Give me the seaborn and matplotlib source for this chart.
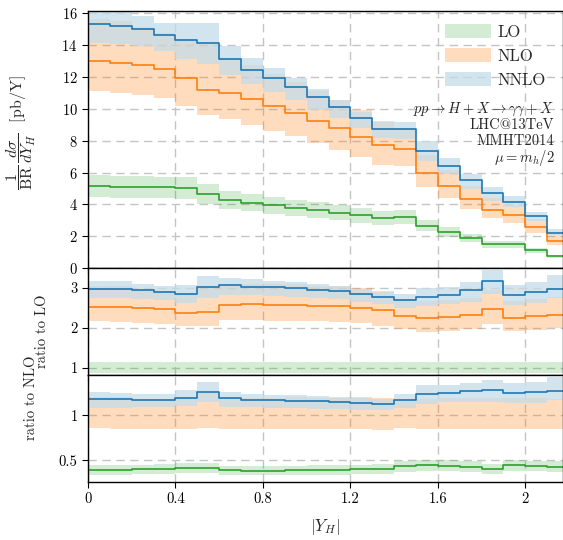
import numpy as np
import pandas as pd
import matplotlib
matplotlib.use("Agg")
import matplotlib.pyplot as plt
import seaborn as sns
from matplotlib.patches import Patch

# --- data: 22 bins of width 0.1 in |Y_H| ---
bin_edges = np.round(np.arange(0, 2.21, 0.1), 2)

lo_c = [5.13, 5.12, 5.10, 5.06, 5.01, 4.66, 4.28, 4.11, 3.95, 3.79, 3.63,
        3.46, 3.30, 3.16, 3.23, 2.66, 2.28, 1.87, 1.48, 1.48, 1.12, 0.73]
lo_dn = [4.44, 4.43, 4.41, 4.38, 4.33, 4.03, 3.70, 3.56, 3.42, 3.28, 3.14,
         2.99, 2.85, 2.73, 2.79, 2.30, 1.97, 1.62, 1.28, 1.28, 0.97, 0.63]
lo_up = [5.82, 5.81, 5.79, 5.74, 5.69, 5.29, 4.86, 4.66, 4.48, 4.30, 4.12,
         3.93, 3.75, 3.59, 3.67, 3.02, 2.59, 2.12, 1.68, 1.68, 1.27, 0.83]

nlo_c = [12.98, 12.91, 12.77, 12.49, 11.95, 11.21, 11.02, 10.63, 10.19, 9.74, 9.26,
         8.80, 8.25, 7.71, 7.45, 5.97, 5.16, 4.34, 3.67, 3.33, 2.57, 1.70]
nlo_dn = [11.11, 11.00, 10.85, 10.66, 10.20, 9.59, 9.37, 9.01, 8.61, 8.27, 7.85,
          7.43, 6.97, 6.49, 6.38, 5.07, 4.39, 3.69, 3.12, 2.83, 2.18, 1.45]
nlo_up = [15.62, 15.55, 15.15, 14.75, 14.36, 14.05, 13.20, 12.75, 12.20, 11.70, 11.10,
          10.58, 9.91, 9.22, 8.78, 7.08, 6.14, 5.16, 4.37, 3.96, 3.06, 2.02]

nnlo_c = [15.31, 15.22, 14.99, 14.66, 14.32, 14.13, 13.15, 12.47, 11.93, 11.36, 10.75,
          10.12, 9.43, 8.73, 8.73, 7.38, 6.44, 5.51, 4.70, 4.17, 3.24, 2.17]
nnlo_dn = [14.12, 14.05, 13.92, 13.62, 13.15, 12.85, 12.10, 11.58, 11.07, 10.55, 9.96,
           9.43, 8.77, 8.18, 8.10, 6.75, 5.92, 4.97, 4.22, 3.81, 2.93, 2.00]
nnlo_up = [16.30, 16.20, 15.83, 15.41, 15.38, 15.37, 13.94, 13.21, 12.54, 11.95, 11.26,
           10.55, 9.82, 9.15, 9.20, 7.96, 6.92, 5.90, 5.12, 4.55, 3.52, 2.42]

orders = ["LO", "NLO", "NNLO"]
x_ticks = [0, 0.4, 0.8, 1.2, 1.6, 2]
x_ticklabels = ["0", "0.4", "0.8", "1.2", "1.6", "2"]

colors = {"LO": "#2ca02c", "NLO": "#ff7f0e", "NNLO": "#1f77b4"}
# band fills: (colour, alpha)
band_style = {"LO": ("#2ca02c", 0.2), "NLO": ("#ff7f0e", 0.27),
              "NNLO": ("#c4dbe9", 0.75)}

series = {
    "LO": (np.array(lo_c), np.array(lo_dn), np.array(lo_up)),
    "NLO": (np.array(nlo_c), np.array(nlo_dn), np.array(nlo_up)),
    "NNLO": (np.array(nnlo_c), np.array(nnlo_dn), np.array(nnlo_up)),
}


def step(v):
    # repeat the last bin so the post-step reaches the right edge
    return np.append(v, v[-1])


def draw_panel(ax, ref, show_lines):
    for name in orders:
        c, dn, up = series[name]
        fc, a = band_style[name]
        ax.fill_between(bin_edges, step(dn / ref), step(up / ref), step="post",
                        color=fc, alpha=a, lw=0)
    rows = []
    for name in show_lines:
        c = series[name][0]
        rows.append(pd.DataFrame({"x": bin_edges, "y": step(c / ref), "order": name}))
    df = pd.concat(rows, ignore_index=True)
    sns.lineplot(data=df, x="x", y="y", hue="order", palette=colors,
                 drawstyle="steps-post", estimator=None, legend=False,
                 lw=1.2, ax=ax)
    ax.set_xlim(0, 2.17)
    ax.set_xticks(x_ticks)
    ax.grid(True, ls=(0, (6, 4)), color="#c4c4c4", lw=1)
    ax.set_xlabel("")
    ax.set_ylabel("")
    for s in ax.spines.values():
        s.set_color("black")
        s.set_linewidth(1.0)
    ax.tick_params(direction="out", length=4, width=0.8, colors="black",
                   labelsize=10.5)


sns.set_theme(style="ticks")
plt.rcParams["font.family"] = ["cmr10", "DejaVu Serif"]
plt.rcParams["mathtext.fontset"] = "cm"
plt.rcParams["axes.formatter.use_mathtext"] = True

W, H = 563, 540
fig = plt.figure(figsize=(W / 100, H / 100), dpi=100)

left = 88 / W
width = (562.5 - 88) / W
ax_main = fig.add_axes([left, (H - 268) / H, width, 257 / H])
ax_lo = fig.add_axes([left, (H - 375) / H, width, 107 / H])
ax_nlo = fig.add_axes([left, (H - 482) / H, width, 107 / H])

one = np.ones(len(lo_c))

# main panel
draw_panel(ax_main, one, orders)
ax_main.set_ylim(0, 16.15)
ax_main.set_yticks(range(0, 17, 2))
ax_main.set_xticklabels([])

# ratio to LO
draw_panel(ax_lo, np.array(lo_c), ["NLO", "NNLO"])
ax_lo.set_ylim(0.82, 3.5)
ax_lo.set_yticks([1, 2, 3])
ax_lo.set_yticklabels(["1", "2", "3"])
ax_lo.set_xticklabels([])

# ratio to NLO
draw_panel(ax_nlo, np.array(nlo_c), ["LO", "NNLO"])
ax_nlo.set_ylim(0.26, 1.45)
ax_nlo.set_yticks([0.5, 1])
ax_nlo.set_yticklabels(["0.5", "1"])
ax_nlo.set_xticklabels(x_ticklabels)

# legend with filled boxes
handles = [Patch(facecolor=band_style[n][0], alpha=band_style[n][1], lw=0) for n in orders]
ax_main.legend(handles, orders, loc="upper right", bbox_to_anchor=(0.965, 0.95),
               frameon=False, fontsize=12, handlelength=2.75, handleheight=0.9,
               handletextpad=0.4, labelspacing=0.5, borderpad=0, borderaxespad=0)

# process info
info = [r"$pp\to H+X\to\gamma\gamma+X$", "LHC@13TeV", "MMHT2014", r"$\mu=m_h/2$"]
for i, t in enumerate(info):
    ax_main.text((555 - 88) / 475, (268 - (109 + i * 16.3)) / 257, t,
                 transform=ax_main.transAxes, ha="right", va="center", fontsize=10.5)

# axis labels
fig.text(21 / W, 1 - 133 / H,
         r"$\dfrac{1}{\mathrm{BR}}\,\dfrac{d\sigma}{dY_H}$  [pb/Y]",
         rotation=90, ha="center", va="center", fontsize=11.5)
fig.text(42 / W, 1 - 331 / H, "ratio to LO", rotation=90,
         ha="center", va="center", fontsize=10.5)
fig.text(31 / W, 1 - 398 / H, "ratio to NLO", rotation=90,
         ha="center", va="center", fontsize=10.5)
fig.text(325 / W, 1 - 527 / H, r"$|Y_H|$", ha="center", va="center", fontsize=12)

fig.savefig("out.png", dpi=100)
